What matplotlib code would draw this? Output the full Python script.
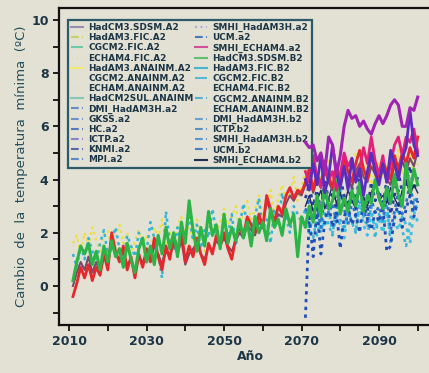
import numpy as np
import matplotlib
matplotlib.use('Agg')
import matplotlib.pyplot as plt
from matplotlib.lines import Line2D

# years
years_all = np.arange(2011, 2101)
years_rcm = np.arange(2071, 2101)

# statistical downscaling series, 2011-2100
sdsm_b2 = [0.2, 0.9, 1.5, 1.2, 1.6, 0.8, 1.3, 0.6, 1.5, 0.9,
           1.7, 1.1, 1.4, 0.7, 1.6, 1.0, 0.5, 1.4, 1.8, 0.9,
           1.5, 0.8, 1.9, 1.2, 2.2, 1.4, 2.0, 1.1, 2.4, 1.6,
           3.2, 2.1, 1.3, 2.2, 1.5, 2.8, 1.9, 2.3, 1.4, 2.7,
           1.6, 2.2, 1.7, 2.5, 1.8, 2.4, 1.5, 2.6, 2.0, 2.4,
           1.7, 2.9, 2.2, 2.5, 1.9, 2.9, 2.3, 2.7, 1.1, 2.6,
           2.2, 3.0, 2.4, 3.4, 2.6, 3.8, 2.9, 3.2, 4.0, 2.7,
           3.3, 2.8, 3.6, 3.0, 3.9, 2.8, 3.4, 3.1, 4.0, 3.3,
           2.9, 3.7, 3.1, 4.2, 3.4, 3.0, 4.6, 3.5, 4.4, 3.8]

fic_a2 = [-0.4, 0.1, 0.7, 0.3, 0.8, 0.2, 0.7, 0.4, 1.2, 0.6,
          2.0, 1.3, 0.9, 1.5, 0.6, 1.1, 0.3, 1.2, 0.7, 1.4,
          0.9, 1.8, 1.1, 0.6, 1.5, 1.0, 1.9, 1.3, 2.1, 0.9,
          1.5, 1.1, 1.8, 1.2, 0.8, 1.6, 1.2, 1.9, 1.5, 2.0,
          1.4, 1.0, 1.8, 2.2, 1.9, 2.6, 2.3, 2.0, 2.7, 2.2,
          3.4, 2.9, 2.4, 3.0, 2.7, 3.4, 3.7, 3.3, 3.6, 3.5,
          3.9, 4.4, 3.6, 4.2, 3.8, 4.7, 4.1, 3.7, 4.5, 4.0,
          4.8, 4.3, 3.9, 4.6, 5.1, 4.4, 4.0, 4.9, 4.5, 4.1,
          4.7, 4.3, 4.0, 4.9, 4.4, 5.0, 4.6, 5.2, 4.8, 5.6]

sdsm_a2 = [0.0, 0.5, 0.9, 0.6, 1.1, 0.5, 0.9, 0.5, 1.3, 0.8,
           1.6, 1.2, 1.0, 1.3, 0.8, 1.0, 0.5, 1.1, 0.9, 1.2,
           1.0, 1.5, 1.2, 0.8, 1.3, 1.1, 1.6, 1.2, 1.7, 0.8,
           1.2, 1.4, 1.6, 1.2, 1.0, 1.5, 1.3, 1.7, 1.5, 1.8,
           1.5, 1.3, 1.7, 2.0, 1.8, 2.3, 2.1, 1.9, 2.4, 2.2,
           3.2, 2.8, 2.4, 2.7, 2.6, 3.1, 3.4, 3.2, 3.5, 3.4,
           3.8, 4.1, 3.5, 4.0, 3.7, 4.3, 3.9, 3.6, 4.2, 3.8,
           4.4, 4.0, 3.7, 4.3, 4.6, 4.1, 3.9, 4.5, 4.2, 3.9,
           4.4, 4.0, 3.8, 4.6, 4.2, 4.7, 4.3, 4.8, 4.5, 5.1]

anainm_b2 = [1.2, 0.7, 1.5, 1.0, 1.8, 1.3, 0.9, 1.6, 2.1, 1.2,
             1.7, 2.2, 1.4, 0.8, 1.9, 1.5, 1.1, 2.0, 1.6, 1.3,
             2.4, 1.8, 1.2, 0.3, 2.8, 1.7, 1.3, 2.2, 1.5, 1.9,
             2.6, 1.7, 2.3, 1.4, 2.1, 1.8, 2.9, 2.0, 1.6, 2.4,
             1.9, 2.7, 1.5, 2.2, 3.1, 2.3, 1.9, 2.6, 3.3, 2.1,
             2.5, 1.6, 2.9, 2.3, 3.5, 2.6, 2.0, 3.0, 2.7, 2.4,
             2.9, 2.2, 1.8, 2.6, 2.0, 2.8, 2.3, 1.9, 3.1, 2.5,
             2.1, 2.9, 2.4, 2.0, 3.2, 2.6, 2.2, 3.0, 1.8, 2.7,
             2.3, 3.1, 1.6, 2.5, 2.9, 2.1, 1.5, 2.4, 3.3, 2.8]

anainm_a2 = [1.6, 1.9, 1.2, 2.0, 1.5, 2.2, 1.7, 1.3, 1.9, 2.1,
             1.4, 1.8, 2.3, 1.6, 2.0, 1.2, 1.7, 2.1, 1.5, 1.9,
             1.3, 2.2, 1.8, 2.5, 1.6, 2.0, 1.4, 2.3, 2.6, 1.8,
             2.2, 1.7, 2.5, 2.0, 1.3, 2.7, 2.1, 1.8, 2.4, 2.9,
             2.3, 2.6, 3.0, 2.2, 2.8, 3.2, 2.5, 2.9, 3.4, 2.6,
             3.0, 3.6, 2.7, 3.3, 3.8, 3.1, 3.5, 4.1, 3.2, 3.7,
             4.4, 3.6, 4.0, 5.0, 3.8, 4.3, 4.7, 3.9, 4.5, 4.2,
             4.8, 4.0, 4.6, 5.0, 4.1, 4.4, 4.9, 3.8, 4.3, 4.7,
             4.1, 4.6, 3.9, 4.4, 5.1, 4.2, 4.5, 4.9, 4.3, 4.6]

# regional models, 2071-2100
smhi_echam_a2 = [5.4, 5.2, 5.3, 4.7, 5.0, 4.3, 5.6, 5.3, 4.2, 4.9,
                 6.0, 6.6, 6.3, 6.4, 6.0, 6.2, 5.9, 5.7, 6.1, 6.4,
                 6.1, 6.4, 6.8, 7.0, 6.8, 6.0, 6.0, 6.7, 6.6, 7.1]
hc_a2 = [4.0, 3.6, 4.6, 3.8, 4.9, 3.5, 4.1, 5.3, 4.3, 3.7,
         4.5, 3.6, 4.8, 3.9, 4.4, 3.4, 4.3, 5.0, 4.3, 3.8,
         4.6, 3.9, 5.1, 4.6, 4.0, 4.8, 5.2, 6.6, 5.3, 4.9]
mpi_a2 = [4.3, 3.9, 4.9, 4.1, 3.7, 4.5, 4.0, 4.3, 3.6, 4.2,
          5.0, 4.5, 4.8, 4.1, 4.4, 5.2, 4.6, 5.6, 4.7, 4.2,
          4.9, 3.9, 4.6, 5.3, 5.6, 4.9, 5.6, 5.4, 5.9, 5.0]
ucm_b2 = [-1.2, 2.6, 1.1, 2.9, 1.2, 2.4, 3.1, 2.2, 2.8, 1.4,
          2.6, 3.0, 2.3, 2.7, 2.0, 3.2, 2.5, 2.1, 2.8, 2.4,
          3.0, 1.3, 1.5, 2.6, 3.1, 2.2, 2.9, 3.4, 2.6, 3.2]
ictp_b2 = [2.8, 3.3, 2.5, 3.0, 2.2, 3.5, 2.7, 3.1, 2.4, 3.6,
           2.9, 2.3, 3.2, 2.6, 3.8, 2.9, 2.4, 3.3, 2.7, 3.0,
           2.5, 3.4, 2.1, 2.8, 3.6, 2.7, 3.1, 3.9, 2.9, 3.4]
knmi_a2 = [3.3, 3.8, 3.0, 3.6, 2.8, 4.0, 3.2, 3.5, 2.9, 4.1,
           3.4, 3.0, 3.7, 3.1, 4.2, 3.3, 2.8, 3.9, 3.2, 3.6,
           3.0, 4.0, 2.7, 3.4, 4.3, 3.5, 3.8, 4.5, 3.6, 4.1]
dmi_b2 = [2.3, 2.0, 2.7, 1.9, 2.5, 2.2, 2.9, 2.0, 2.6, 2.3,
          1.8, 2.8, 2.4, 2.1, 3.0, 2.3, 1.9, 2.7, 2.2, 2.5,
          2.0, 2.8, 1.9, 2.4, 2.1, 2.6, 2.3, 1.6, 2.8, 2.4]
smhi_echam_b2 = [3.0, 3.4, 2.8, 3.2, 3.6, 2.9, 3.3, 3.8, 3.1, 3.5,
                 3.0, 3.6, 3.2, 2.9, 3.7, 3.3, 3.0, 3.5, 3.9, 3.2,
                 3.4, 3.1, 3.7, 3.3, 3.0, 3.6, 4.0, 3.4, 3.8, 3.5]

# legend entries (label, colour, linestyle)
legend_labels = ['HadCM3.SDSM.A2', 'HadAM3.FIC.A2', 'CGCM2.FIC.A2', 'ECHAM4.FIC.A2',
                 'HadAM3.ANAINM.A2', 'CGCM2.ANAINM.A2', 'ECHAM.ANAINM.A2', 'HadCM2SUL.ANAINM',
                 'DMI_HadAM3H.a2', 'GKSS.a2', 'HC.a2', 'ICTP.a2', 'KNMI.a2', 'MPI.a2',
                 'SMHI_HadAM3H.a2', 'UCM.a2', 'SMHI_ECHAM4.a2', 'HadCM3.SDSM.B2',
                 'HadAM3.FIC.B2', 'CGCM2.FIC.B2', 'ECHAM4.FIC.B2', 'CGCM2.ANAINM.B2',
                 'ECHAM.ANAINM.B2', 'DMI_HadAM3H.b2', 'ICTP.b2', 'SMHI_HadAM3H.b2',
                 'UCM.b2', 'SMHI_ECHAM4.b2']
legend_colors = ['#9a8cb4', '#c8d060', '#70c8a8', '#e4dcc0', '#f0ec70', '#e8e0c4', '#e6dec2',
                 '#88c8b8', '#6a8cc8', '#7090c8', '#5878c0', '#8a84c8', '#5868b0', '#6088c8',
                 '#b0a8d8', '#4a78c0', '#d0509a', '#60c070', '#48b8d0', '#58b8d8', '#e6dec2',
                 '#58b0d0', '#e6dec2', '#6aa0d0', '#5a90c8', '#5a98d0', '#4a80c0', '#203050']
legend_styles = ['-', '--', '-.', ':', '-', ':', ':', '-', '--', '--', '--', '--', '--', '--',
                 ':', '--', '-', '-', '-', '-.', ':', '--', ':', '--', '--', '--', '--', '-']

bg = '#e3e0d4'
txt = '#1c3646'

fig = plt.figure(figsize=(4.29, 3.73), dpi=100, facecolor=bg)
ax = fig.add_axes([59/429, 48/373, 382/429, 317/373])
ax.set_facecolor(bg)

dots = (0, (1.2, 1.6))
ax.plot(years_all, anainm_a2, color='#ece040', lw=1.6, ls=dots, zorder=1)
ax.plot(years_all, anainm_b2, color='#30b4d8', lw=1.8, ls=dots, zorder=1)
ax.plot(years_rcm, dmi_b2, color='#3cc0e4', lw=2.0, ls=dots, zorder=1)
ax.plot(years_rcm, ictp_b2, color='#2f72d0', lw=2.0, ls=dots, zorder=1)
ax.plot(years_rcm, ucm_b2, color='#1f50b8', lw=2.0, ls=dots, zorder=1)
ax.plot(years_rcm, knmi_a2, color='#283c9c', lw=2.0, ls=dots, zorder=1)
ax.plot(years_rcm, smhi_echam_b2, color='#202c60', lw=1.0, zorder=2)

ax.plot(years_all, sdsm_a2, color='#7a4a6a', lw=1.5, zorder=3)
ax.plot(years_all, fic_a2, color='#e4282c', lw=2.0, zorder=3)
ax.plot(years_all, sdsm_b2, color='#2cb447', lw=2.2, zorder=4)

ax.plot(years_rcm, mpi_a2, color='#e0207c', lw=2.0, zorder=5)
ax.plot(years_rcm, hc_a2, color='#5a2cc0', lw=2.0, zorder=6)
ax.plot(years_rcm, smhi_echam_a2, color='#a024b4', lw=2.2, zorder=6)

ax.set_xlim(2007.4, 2106)
ax.set_ylim(-1.47, 10.45)
ax.set_xticks(np.arange(2010, 2101, 10))
ax.set_xticklabels([str(y) if (y - 2010) % 20 == 0 else '' for y in range(2010, 2101, 10)])
ax.set_yticks(np.arange(-1, 11, 1))
ax.set_yticklabels([str(v) if v % 2 == 0 else '' for v in range(-1, 11)])
ax.tick_params(direction='out', length=4, width=1.3, colors='#111111',
               labelcolor=txt, labelsize=9)
for lab in ax.get_xticklabels() + ax.get_yticklabels():
    lab.set_fontweight('bold')
for s in ['left', 'bottom', 'top']:
    ax.spines[s].set_linewidth(1.6)
    ax.spines[s].set_color('#111111')
ax.spines['right'].set_visible(False)

ax.set_xlabel('Año', fontsize=9, fontweight='bold', color=txt, labelpad=1)
ax.set_ylabel('Cambio  de  la  temperatura  mínima  (ºC)', fontsize=9.5,
              color='#24505c', labelpad=2)

handles = [Line2D([], [], color=c, ls=s, lw=1.5) for c, s in zip(legend_colors, legend_styles)]
leg = ax.legend(handles, legend_labels, ncol=2, loc='upper left',
                bbox_to_anchor=(0.024, 0.962), fontsize=6.4, frameon=True,
                handlelength=1.3, handletextpad=0.6, columnspacing=0.2,
                labelspacing=0.13, borderpad=0.35, borderaxespad=0, fancybox=False)
leg.get_frame().set_facecolor(bg)
leg.get_frame().set_edgecolor('#2c5a68')
leg.get_frame().set_linewidth(1.6)
leg.get_frame().set_alpha(1)
for t in leg.get_texts():
    t.set_color(txt)
    t.set_fontweight('bold')

fig.savefig('out.png', dpi=100, facecolor=bg)
